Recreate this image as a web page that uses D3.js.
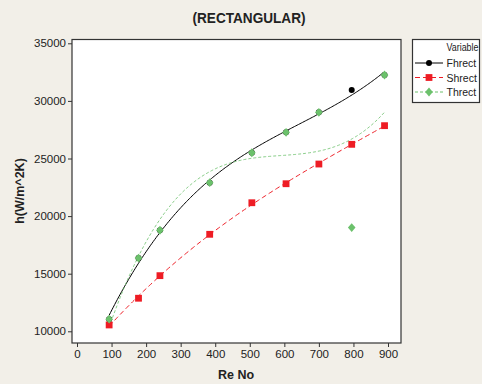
<!DOCTYPE html>
<html><head><meta charset="utf-8">
<script src="https://cdn.jsdelivr.net/npm/d3@7"></script>
<style>
html,body{margin:0;padding:0;background:#f2efe8;}
svg{display:block;}
text{font-family:"Liberation Sans",Arial,sans-serif;fill:#222;}
</style></head><body>
<svg id="c" width="482" height="384"></svg>
<script>
const reNo = [93, 178, 240, 384, 506, 605, 700, 795, 890];
const fhrect = [11050, 16360, 18770, 22900, 25500, 27270, 29010, 30950, 32250];
const shrect = [10550, 12870, 14830, 18420, 21160, 22810, 24520, 26230, 27850];
const threct = [11050, 16360, 18770, 22900, 25500, 27270, 29010, 19000, 32250];
const xTicks = [0,100,200,300,400,500,600,700,800,900];
const yTicks = [10000,15000,20000,25000,30000,35000];
const seriesNames = ["Fhrect","Shrect","Threct"];
const seriesColors = ["#000000","#ee1c24","#6cc16c"];

const svg = d3.select("#c");
const L=72, R=401, T=39.5, B=343;
const x = d3.scaleLinear().domain([0,900]).range([77,388]);
const y = d3.scaleLinear().domain([10000,35000]).range([331.3,43.3]);

svg.append("rect").attr("x",L).attr("y",T).attr("width",R-L).attr("height",B-T)
  .attr("fill","#fff").attr("stroke","#333").attr("stroke-width",1.2);

const ya = svg.append("g").attr("transform",`translate(${L},0)`)
  .call(d3.axisLeft(y).tickValues(yTicks).tickSize(4).tickPadding(2).tickFormat(d3.format("d")));
const xa = svg.append("g").attr("transform",`translate(0,${B})`)
  .call(d3.axisBottom(x).tickValues(xTicks).tickSize(4).tickPadding(3).tickFormat(d3.format("d")));
[ya,xa].forEach(g=>{
  g.select(".domain").remove();
  g.selectAll("line").attr("stroke","#333");
  g.selectAll("text").style("font-size","11.5px").attr("fill","#222");
});

function polyfit(xs, ys, deg){
  const n=deg+1, A=[];
  for(let i=0;i<n;i++){A.push(new Array(n+1).fill(0));}
  xs.forEach((xv,k)=>{
    const t=xv/1000;
    for(let i=0;i<n;i++){
      for(let j=0;j<n;j++) A[i][j]+=Math.pow(t,i+j);
      A[i][n]+=ys[k]*Math.pow(t,i);
    }
  });
  for(let i=0;i<n;i++){
    let p=i;for(let r=i+1;r<n;r++) if(Math.abs(A[r][i])>Math.abs(A[p][i])) p=r;
    [A[i],A[p]]=[A[p],A[i]];
    for(let r=0;r<n;r++){ if(r===i) continue;
      const f=A[r][i]/A[i][i];
      for(let c=i;c<=n;c++) A[r][c]-=f*A[i][c];
    }
  }
  const co=A.map((row,i)=>row[n]/row[i]);
  return xv=>{const t=xv/1000;return co.reduce((s,c,i)=>s+c*Math.pow(t,i),0);};
}

const data=[fhrect,shrect,threct];
const dashes=[null,"5,3","3,2"];
const line=d3.line().x(d=>x(d[0])).y(d=>y(d[1]));
data.forEach((vals,i)=>{
  const f=polyfit(reNo,vals,3);
  const xs=d3.range(reNo[0], reNo[reNo.length-1]+0.1, 4);
  xs.push(reNo[reNo.length-1]);
  svg.append("path").datum(xs.map(v=>[v,f(v)]))
    .attr("d",line).attr("fill","none").attr("stroke",seriesColors[i])
    .attr("stroke-width",1).attr("stroke-dasharray",dashes[i])
    .attr("opacity", i===2?0.8:1);
});

function marker(g,i,cx,cy){
  if(i===0) g.append("circle").attr("cx",cx).attr("cy",cy).attr("r",3).attr("fill",seriesColors[0]);
  else if(i===1) g.append("rect").attr("x",cx-3.4).attr("y",cy-3.4).attr("width",6.8).attr("height",6.8).attr("fill",seriesColors[1]);
  else g.append("path").attr("d",`M${cx},${cy-4.4}L${cx+3.8},${cy}L${cx},${cy+4.4}L${cx-3.8},${cy}Z`).attr("fill",seriesColors[2]);
}
const mg=svg.append("g");
data.forEach((vals,i)=>{
  vals.forEach((v,k)=>marker(mg,i,x(reNo[k]),y(v)));
});

svg.append("text").attr("x",249).attr("y",23).attr("text-anchor","middle")
  .attr("textLength",113).attr("lengthAdjust","spacingAndGlyphs")
  .style("font-size","15px").style("font-weight","bold").text("(RECTANGULAR)");
svg.append("text").attr("x",236).attr("y",379).attr("text-anchor","middle")
  .style("font-size","12.5px").style("font-weight","bold").text("Re No");
svg.append("text").attr("transform","translate(24,191) rotate(-90)").attr("text-anchor","middle")
  .style("font-size","12.5px").style("font-weight","bold").text("h(W/m^2K)");

const lg=svg.append("g");
lg.append("rect").attr("x",412.5).attr("y",39.5).attr("width",67).attr("height",63)
  .attr("fill","#fff").attr("stroke","#333").attr("stroke-width",1.2);
lg.append("text").attr("x",446.5).attr("y",51).style("font-size","10px")
  .attr("textLength",32).attr("lengthAdjust","spacingAndGlyphs").text("Variable");
seriesNames.forEach((nm,i)=>{
  const yy=63+i*14.5;
  lg.append("line").attr("x1",415).attr("x2",443).attr("y1",yy).attr("y2",yy)
    .attr("stroke",seriesColors[i]).attr("stroke-width",1).attr("stroke-dasharray",dashes[i]);
  marker(lg,i,429,yy);
  lg.append("text").attr("x",446.5).attr("y",yy+4).style("font-size","10.5px").text(nm);
});
</script>
</body></html>
